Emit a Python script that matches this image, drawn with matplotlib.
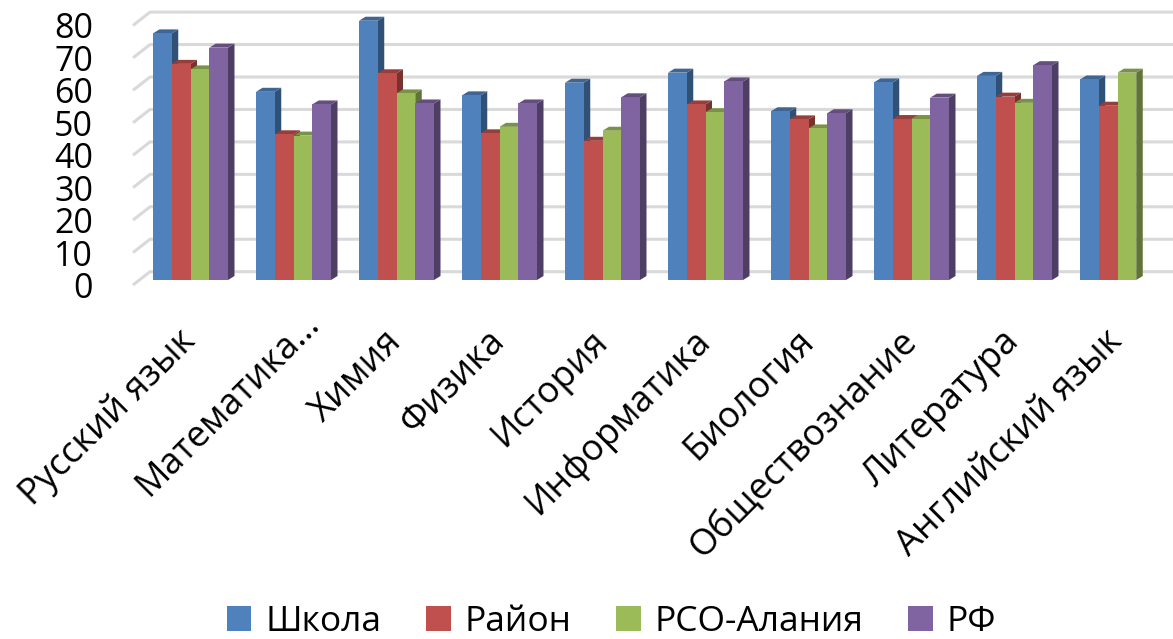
import numpy as np
import matplotlib
matplotlib.use("Agg")
import matplotlib.pyplot as plt
from matplotlib.patches import Polygon, Patch
from matplotlib.transforms import ScaledTranslation

categories = ["Русский язык", "Математика…", "Химия", "Физика", "История",
              "Информатика", "Биология", "Обществознание", "Литература",
              "Английский язык"]
series_names = ["Школа", "Район", "РСО-Алания", "РФ"]
shkola = [76.0, 58.0, 79.9, 56.9, 60.8, 63.9, 52.0, 60.9, 62.9, 61.8]
rayon = [66.6, 44.9, 63.7, 45.2, 42.9, 54.1, 49.5, 49.6, 56.5, 53.7]
rso = [64.9, 44.5, 57.5, 47.2, 46.0, 51.7, 46.7, 49.6, 54.6, 63.9]
rf = [71.6, 54.1, 54.4, 54.4, 56.3, 61.2, 51.4, 56.2, 66.2, np.nan]
yticks = [0, 10, 20, 30, 40, 50, 60, 70, 80]

front_colors = ["#4F81BD", "#C0504D", "#9BBB59", "#8064A2"]

def shade(c, f):
    r, g, b = matplotlib.colors.to_rgb(c)
    return (r * f, g * f, b * f)

plt.rcParams['font.family'] = ['Open Sans', 'DejaVu Sans']

W, H = 1173, 639
fig = plt.figure(figsize=(W / 100, H / 100), dpi=100)
pxu = 3.245          # pixels per value unit
grp = 103.0          # pixels per group
base_px = 280
left_px = 133
top_val = 84
ax = fig.add_axes([left_px / W, (H - base_px) / H, (W - left_px) / W, top_val * pxu / H])
c0 = 190.5
ax.set_xlim((left_px - c0) / grp, (W - c0) / grp)
ax.set_ylim(0, top_val)
for s in ax.spines.values():
    s.set_visible(False)

# back wall gridlines with side-wall diagonal
back_dy = 8.3 / pxu
front_dy = -5.0 / pxu
x_wall = (150 - c0) / grp
x_left = (left_px - c0) / grp
x_right = (W - c0) / grp
for v in yticks:
    ax.plot([x_left, x_wall, x_right], [v + front_dy, v + back_dy, v + back_dy],
            color="#D9D9D9", lw=2.2, clip_on=False, zorder=1, solid_capstyle='butt')

series = [shkola, rayon, rso, rf]
bw = 18.75 / grp
DX = 6.5 / grp
DY = 4.0 / pxu
z = 2
for i in range(len(categories)):
    for k, vals in enumerate(series):
        v = vals[i]
        if np.isnan(v):
            continue
        x0 = i + (k - 2) * bw
        x1 = x0 + bw
        side = Polygon([(x1, 0), (x1, v), (x1 + DX, v + DY), (x1 + DX, DY)],
                       closed=True, facecolor=shade(front_colors[k], 0.62),
                       edgecolor='none', zorder=z)
        top = Polygon([(x0, v), (x1, v), (x1 + DX, v + DY), (x0 + DX, v + DY)],
                      closed=True, facecolor=shade(front_colors[k], 0.78),
                      edgecolor='none', zorder=z)
        ax.add_patch(side)
        ax.add_patch(top)
        ax.bar(x0, v, width=bw, align='edge', color=front_colors[k],
               edgecolor='none', zorder=z + 0.5)
        z += 1

ax.set_yticks(yticks)
ax.set_yticklabels([str(t) for t in yticks], fontsize=24.5)
ax.tick_params(axis='y', length=0, pad=40 * 0.72)
for lab in ax.get_yticklabels():
    lab.set_transform(lab.get_transform() + ScaledTranslation(0, -0.05, fig.dpi_scale_trans))

ax.set_xticks(range(len(categories)))
ax.set_xticklabels(categories, fontsize=26, rotation=45, ha='right', va='center',
                   rotation_mode='anchor')
ax.tick_params(axis='x', length=0, pad=56 * 0.72)
xl = ax.get_xticklabels()
xl[1].set_transform(xl[1].get_transform() + ScaledTranslation(0.21, 0.18, fig.dpi_scale_trans))

handles = [Patch(facecolor=c, edgecolor='none') for c in front_colors]
fig.legend(handles, series_names, loc='center', bbox_to_anchor=(611.5 / W, 17 / H),
           ncol=4, frameon=False, fontsize=25.5, handlelength=0.7, handleheight=0.7,
           handletextpad=0.4, columnspacing=1.25, borderpad=0, borderaxespad=0)

fig.savefig("out.png", dpi=100)
